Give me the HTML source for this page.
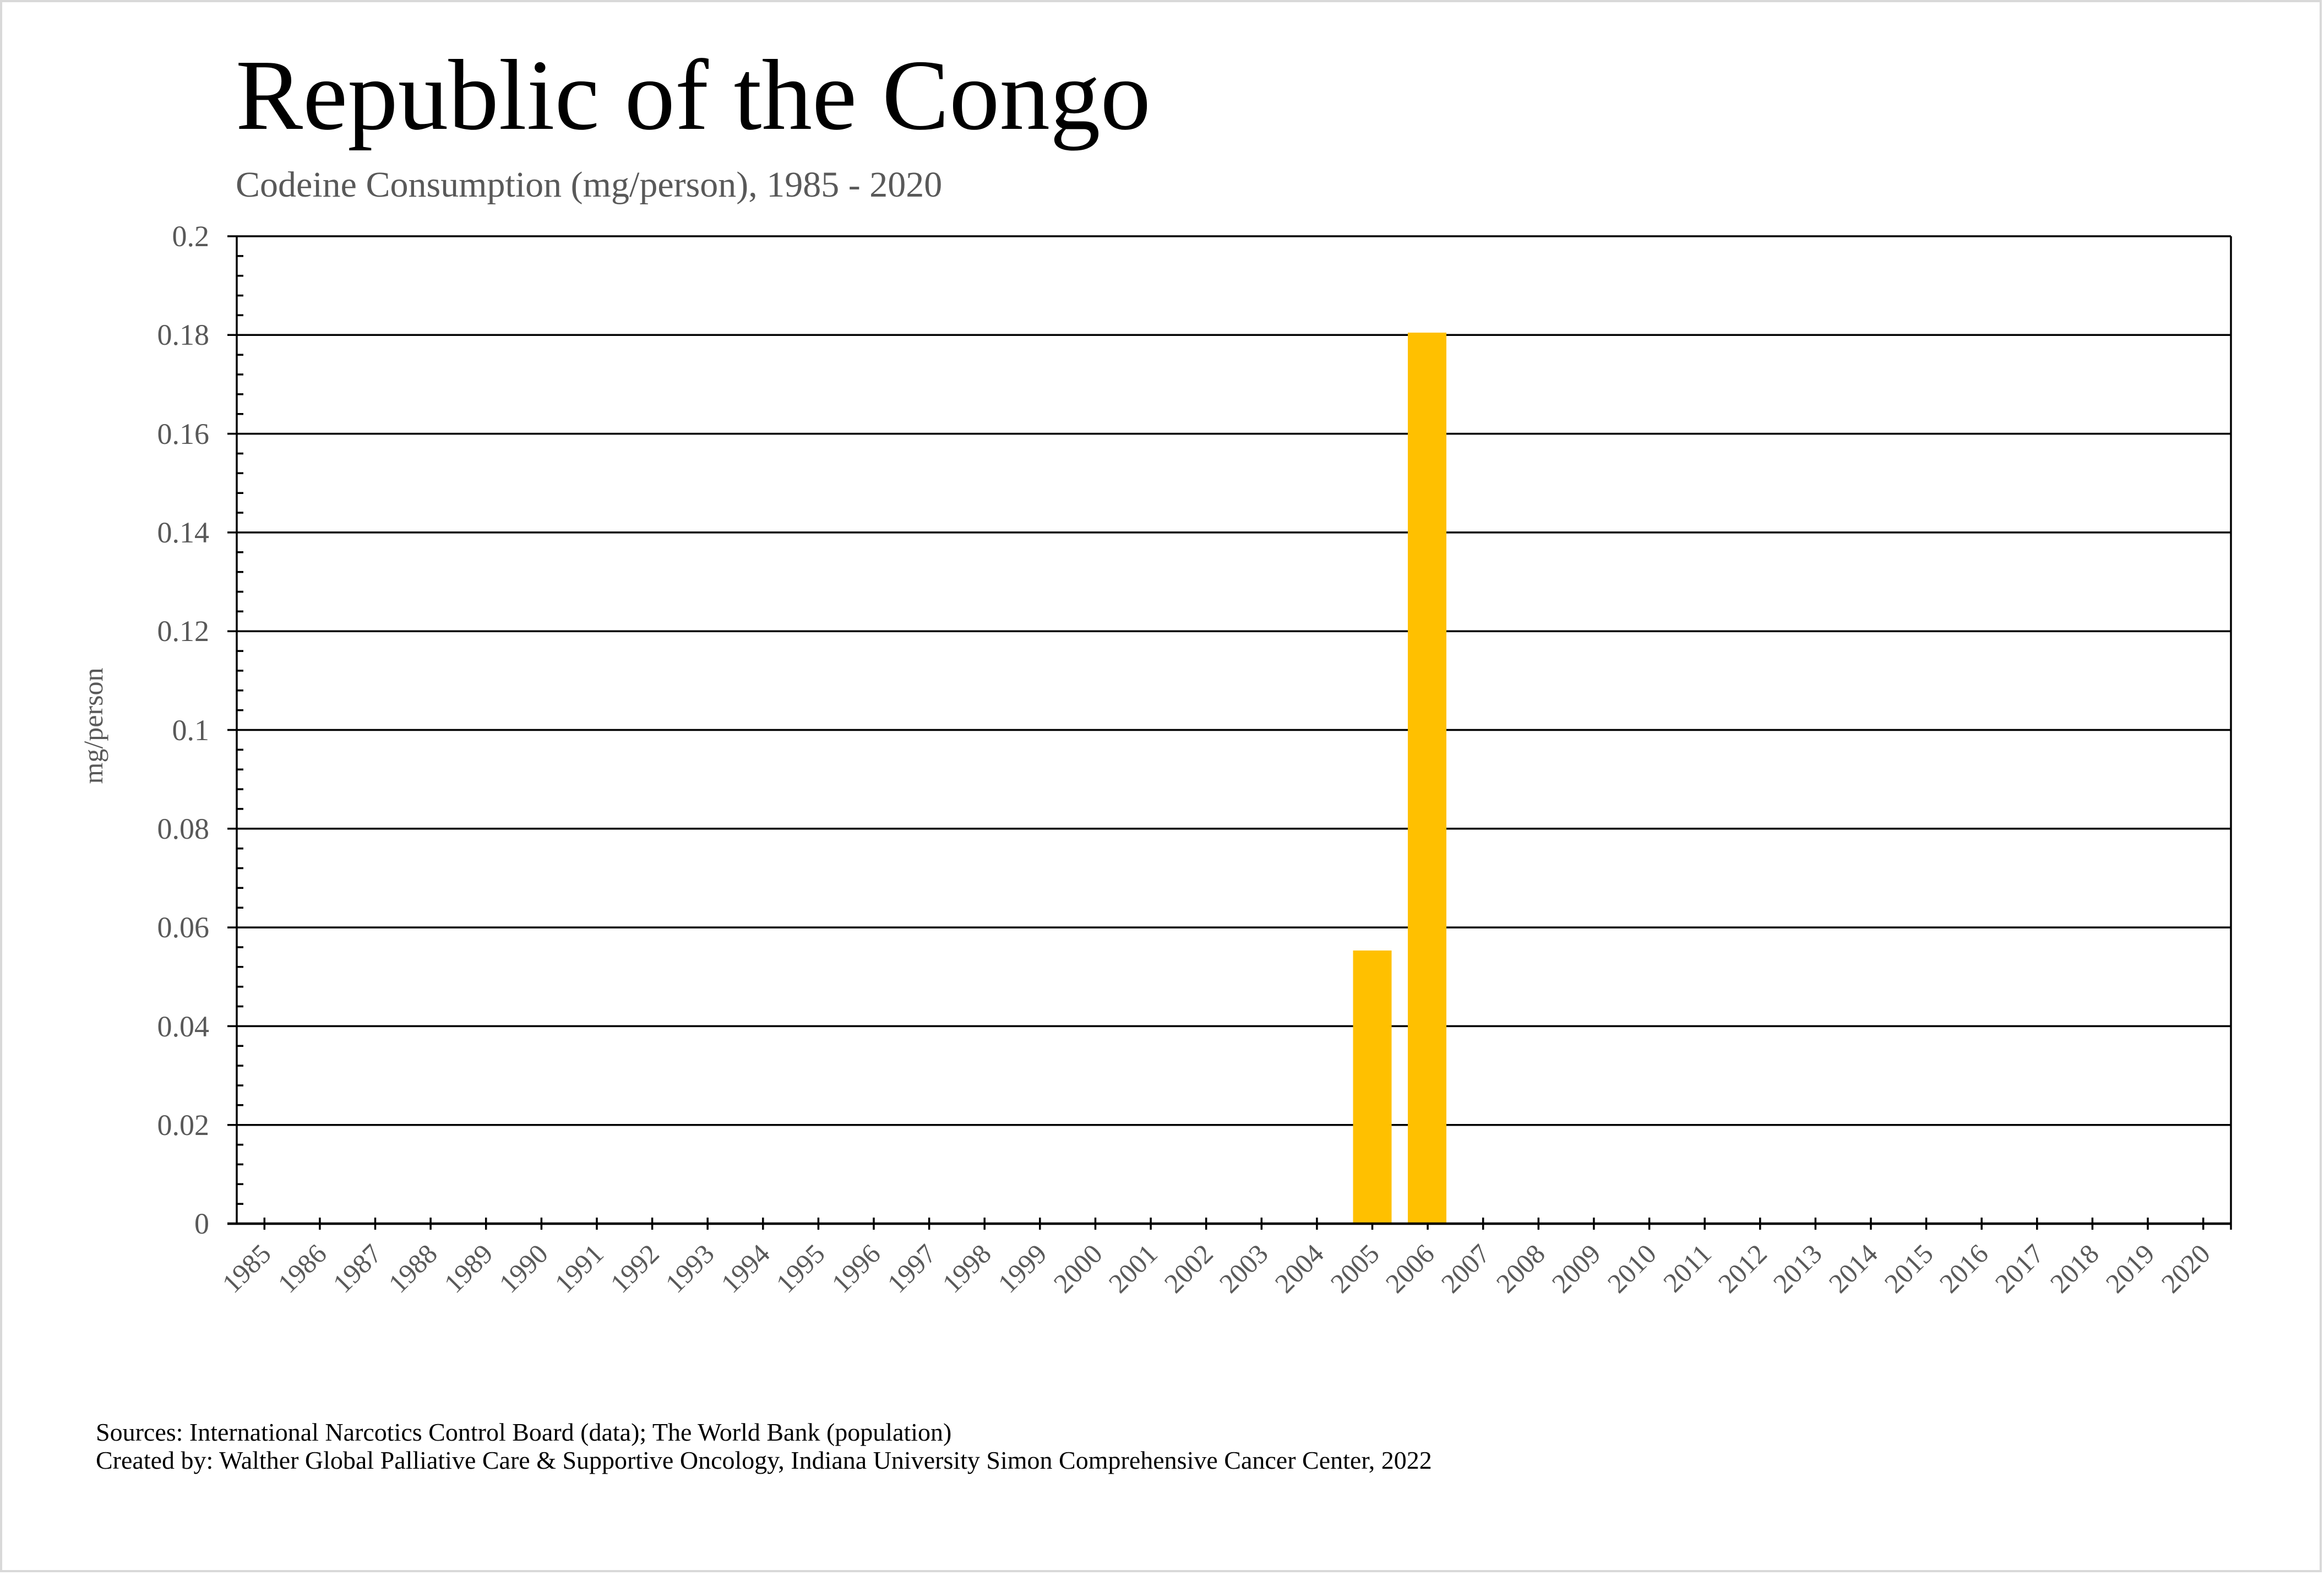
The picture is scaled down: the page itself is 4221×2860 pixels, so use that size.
<!DOCTYPE html>
<html><head><meta charset="utf-8"><style>
html,body{margin:0;padding:0;background:#fff;}
svg{display:block;}
text{font-family:"Liberation Serif","Times New Roman",serif;}
</style></head><body>
<svg width="4221" height="2860" viewBox="0 0 4221 2860" xmlns="http://www.w3.org/2000/svg">
<rect x="0" y="0" width="4221" height="2860" fill="#fff"/>
<rect x="2" y="2" width="4213" height="2851" fill="none" stroke="#d9d9d9" stroke-width="4"/>
<text x="428" y="234" font-size="183" fill="#000">Republic of the Congo</text>
<text x="428" y="357" font-size="66" fill="#595959">Codeine Consumption (mg/person), 1985 - 2020</text>

<g stroke="#000" stroke-width="3.5">
<line x1="413" y1="429" x2="4052" y2="429"/>
<line x1="413" y1="608.3" x2="4052" y2="608.3"/>
<line x1="413" y1="787.6" x2="4052" y2="787.6"/>
<line x1="413" y1="966.9" x2="4052" y2="966.9"/>
<line x1="413" y1="1146.2" x2="4052" y2="1146.2"/>
<line x1="413" y1="1325.5" x2="4052" y2="1325.5"/>
<line x1="413" y1="1504.8" x2="4052" y2="1504.8"/>
<line x1="413" y1="1684.1" x2="4052" y2="1684.1"/>
<line x1="413" y1="1863.4" x2="4052" y2="1863.4"/>
<line x1="413" y1="2042.7" x2="4052" y2="2042.7"/>
<line x1="430" y1="429" x2="430" y2="2222"/>
<line x1="4052" y1="429" x2="4052" y2="2233"/>
<path d="M430 464.9h12M430 500.7h12M430 536.6h12M430 572.4h12M430 644.2h12M430 680h12M430 715.9h12M430 751.7h12M430 823.5h12M430 859.3h12M430 895.2h12M430 931h12M430 1002.8h12M430 1038.6h12M430 1074.5h12M430 1110.3h12M430 1182.1h12M430 1217.9h12M430 1253.8h12M430 1289.6h12M430 1361.4h12M430 1397.2h12M430 1433.1h12M430 1468.9h12M430 1540.7h12M430 1576.5h12M430 1612.4h12M430 1648.2h12M430 1720h12M430 1755.8h12M430 1791.7h12M430 1827.5h12M430 1899.3h12M430 1935.1h12M430 1971h12M430 2006.8h12M430 2078.6h12M430 2114.4h12M430 2150.3h12M430 2186.1h12"/>
<path d="M480.3 2211v22M580.9 2211v22M681.5 2211v22M782.1 2211v22M882.7 2211v22M983.4 2211v22M1084 2211v22M1184.6 2211v22M1285.2 2211v22M1385.8 2211v22M1486.4 2211v22M1587 2211v22M1687.6 2211v22M1788.2 2211v22M1888.8 2211v22M1989.5 2211v22M2090.1 2211v22M2190.7 2211v22M2291.3 2211v22M2391.9 2211v22M2492.5 2211v22M2593.1 2211v22M2693.7 2211v22M2794.3 2211v22M2894.9 2211v22M2995.6 2211v22M3096.2 2211v22M3196.8 2211v22M3297.4 2211v22M3398 2211v22M3498.6 2211v22M3599.2 2211v22M3699.8 2211v22M3800.4 2211v22M3901 2211v22M4001.7 2211v22"/>
</g>
<rect x="2457.5" y="1726" width="70" height="496" fill="#FFC000"/>
<rect x="2557" y="604" width="70" height="1618" fill="#FFC000"/>
<line x1="413" y1="2222" x2="4052" y2="2222" stroke="#000" stroke-width="4.5"/>

<g font-size="54" fill="#595959" text-anchor="end">
<text x="380" y="447">0.2</text>
<text x="380" y="626">0.18</text>
<text x="380" y="806">0.16</text>
<text x="380" y="985">0.14</text>
<text x="380" y="1164">0.12</text>
<text x="380" y="1344">0.1</text>
<text x="380" y="1523">0.08</text>
<text x="380" y="1702">0.06</text>
<text x="380" y="1882">0.04</text>
<text x="380" y="2061">0.02</text>
<text x="380" y="2240">0</text>
</g>
<text transform="translate(186,1318) rotate(-90)" font-size="50" fill="#595959" text-anchor="middle">mg/person</text>

<g font-size="50" fill="#595959" text-anchor="end">
<text transform="translate(495,2280) rotate(-45)">1985</text>
<text transform="translate(596,2280) rotate(-45)">1986</text>
<text transform="translate(696,2280) rotate(-45)">1987</text>
<text transform="translate(797,2280) rotate(-45)">1988</text>
<text transform="translate(898,2280) rotate(-45)">1989</text>
<text transform="translate(998,2280) rotate(-45)">1990</text>
<text transform="translate(1099,2280) rotate(-45)">1991</text>
<text transform="translate(1200,2280) rotate(-45)">1992</text>
<text transform="translate(1300,2280) rotate(-45)">1993</text>
<text transform="translate(1401,2280) rotate(-45)">1994</text>
<text transform="translate(1501,2280) rotate(-45)">1995</text>
<text transform="translate(1602,2280) rotate(-45)">1996</text>
<text transform="translate(1703,2280) rotate(-45)">1997</text>
<text transform="translate(1803,2280) rotate(-45)">1998</text>
<text transform="translate(1904,2280) rotate(-45)">1999</text>
<text transform="translate(2005,2280) rotate(-45)">2000</text>
<text transform="translate(2105,2280) rotate(-45)">2001</text>
<text transform="translate(2206,2280) rotate(-45)">2002</text>
<text transform="translate(2306,2280) rotate(-45)">2003</text>
<text transform="translate(2407,2280) rotate(-45)">2004</text>
<text transform="translate(2508,2280) rotate(-45)">2005</text>
<text transform="translate(2608,2280) rotate(-45)">2006</text>
<text transform="translate(2709,2280) rotate(-45)">2007</text>
<text transform="translate(2809,2280) rotate(-45)">2008</text>
<text transform="translate(2910,2280) rotate(-45)">2009</text>
<text transform="translate(3011,2280) rotate(-45)">2010</text>
<text transform="translate(3111,2280) rotate(-45)">2011</text>
<text transform="translate(3212,2280) rotate(-45)">2012</text>
<text transform="translate(3312,2280) rotate(-45)">2013</text>
<text transform="translate(3413,2280) rotate(-45)">2014</text>
<text transform="translate(3514,2280) rotate(-45)">2015</text>
<text transform="translate(3614,2280) rotate(-45)">2016</text>
<text transform="translate(3715,2280) rotate(-45)">2017</text>
<text transform="translate(3815,2280) rotate(-45)">2018</text>
<text transform="translate(3916,2280) rotate(-45)">2019</text>
<text transform="translate(4017,2280) rotate(-45)">2020</text>
</g>

<text x="174" y="2616" font-size="46" fill="#000">Sources: International Narcotics Control Board (data); The World Bank (population)</text>
<text x="174" y="2667" font-size="46" fill="#000">Created by: Walther Global Palliative Care &amp; Supportive Oncology, Indiana University Simon Comprehensive Cancer Center, 2022</text>
</svg>
</body></html>
